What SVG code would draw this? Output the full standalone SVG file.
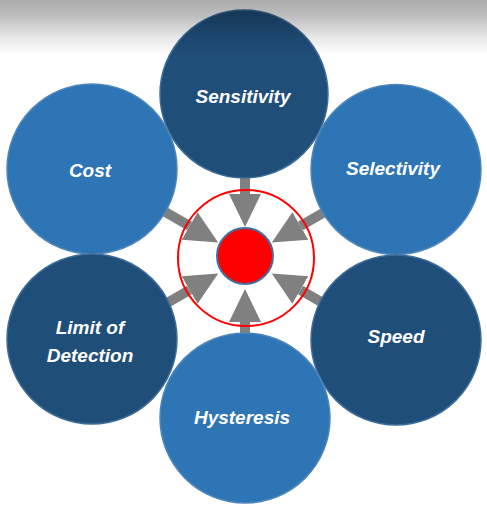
<svg xmlns="http://www.w3.org/2000/svg" width="487" height="505" viewBox="0 0 487 505">
  <defs>
    <linearGradient id="topShade" x1="0" y1="0" x2="0" y2="1">
      <stop offset="0" stop-color="#000" stop-opacity="0.33"/>
      <stop offset="0.3" stop-color="#000" stop-opacity="0.25"/>
      <stop offset="0.65" stop-color="#000" stop-opacity="0.1"/>
      <stop offset="1" stop-color="#000" stop-opacity="0"/>
    </linearGradient>
    <marker id="arrow" markerUnits="userSpaceOnUse" markerWidth="34" markerHeight="34" viewBox="0 -17 34 34" refX="0" refY="0" orient="auto">
      <path d="M0,-16 L33,0 L0,16 z" fill="#808080"/>
    </marker>
  </defs>
  <style>
    .bar { stroke: #808080; stroke-width: 10; fill: none; marker-end: url(#arrow); }
    .dark { fill: #1F4E79; stroke: #3E6D99; stroke-width: 1.5; }
    .light { fill: #2E75B6; stroke: #4F86B9; stroke-width: 1.5; }
    .lbl { font-family: "Liberation Sans", Arial, sans-serif; font-size: 19px; font-weight: bold; font-style: italic; fill: #FFFFFF; text-anchor: middle; }
  </style>
  <rect x="0" y="0" width="487" height="505" fill="#FFFFFF"/>

  <g id="connectors">
    <line class="bar" x1="245" y1="148" x2="245" y2="194"/>
    <line class="bar" x1="245" y1="368" x2="245" y2="322"/>
    <line class="bar" x1="149.7" y1="203" x2="189.6" y2="226"/>
    <line class="bar" x1="149.7" y1="313" x2="189.6" y2="290"/>
    <line class="bar" x1="340.3" y1="203" x2="300.4" y2="226"/>
    <line class="bar" x1="340.3" y1="313" x2="300.4" y2="290"/>
  </g>

  <g id="node-sensitivity">
    <circle class="dark" cx="244" cy="94" r="84"/>
    <text class="lbl" x="243" y="103">Sensitivity</text>
  </g>
  <g id="node-cost">
    <circle class="light" cx="92" cy="169" r="85"/>
    <text class="lbl" x="90" y="177">Cost</text>
  </g>
  <g id="node-selectivity">
    <circle class="light" cx="396" cy="169.5" r="85"/>
    <text class="lbl" x="393" y="175">Selectivity</text>
  </g>
  <g id="node-limit">
    <circle class="dark" cx="92" cy="339" r="85"/>
    <text class="lbl" x="90" y="334">Limit of</text>
    <text class="lbl" x="90" y="362">Detection</text>
  </g>
  <g id="node-speed">
    <circle class="dark" cx="396" cy="340" r="85"/>
    <text class="lbl" x="396" y="343">Speed</text>
  </g>
  <g id="node-hysteresis">
    <circle class="light" cx="245" cy="418" r="85"/>
    <text class="lbl" x="242" y="424">Hysteresis</text>
  </g>

  <g id="node-center">
    <circle cx="246" cy="258" r="68" fill="none" stroke="#FF0000" stroke-width="2"/>
    <circle cx="245" cy="256" r="28" fill="#FF0000" stroke="#41719C" stroke-width="2"/>
  </g>

  <rect x="0" y="0" width="487" height="56" fill="url(#topShade)"/>
</svg>
